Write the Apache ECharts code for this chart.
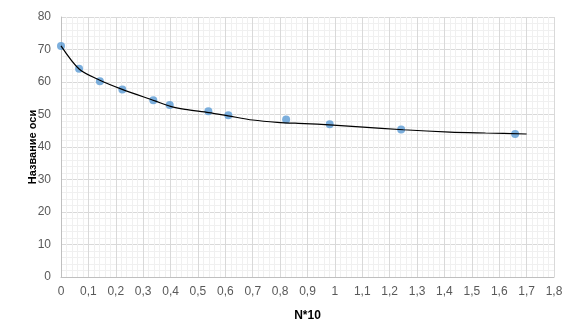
<!DOCTYPE html>
<html><head><meta charset="utf-8">
<script src="https://cdn.jsdelivr.net/npm/echarts@6/dist/echarts.min.js"></script>
<style>html,body{margin:0;padding:0;background:#fff}#c{width:586px;height:327px}</style>
</head><body><div id="c"></div>
<script>
const pointsX = [0, 0.066, 0.142, 0.224, 0.337, 0.397, 0.538, 0.611, 0.822, 0.981, 1.242, 1.658];
const pointsY = [71.1, 64.1, 60.2, 57.7, 54.4, 52.9, 51.0, 49.8, 48.5, 47.0, 45.4, 44.0];
const trendX = [0, 0.066, 0.14, 0.221, 0.343, 0.40, 0.453, 0.54, 0.61, 0.70, 0.79, 0.89, 0.98, 1.09, 1.25, 1.42, 1.55, 1.70];
const trendY = [71.1, 64.0, 60.6, 57.8, 54.2, 52.5, 51.6, 50.6, 49.6, 48.3, 47.6, 47.2, 46.8, 46.2, 45.3, 44.6, 44.3, 44.0];
const xTitle = 'N*10';
const yTitle = 'Название оси';

const chart = echarts.init(document.getElementById('c'), null, {renderer: 'canvas'});
const fam = '"Liberation Sans", Arial, sans-serif';
chart.setOption({
  animation: false,
  backgroundColor: '#fff',
  grid: {left: 61, right: 32, top: 17, bottom: 48, containLabel: false},
  xAxis: {
    type: 'value', min: 0, max: 1.8, interval: 0.1,
    name: xTitle, nameLocation: 'middle', nameGap: 33, nameMoveOverlap: false,
    nameTextStyle: {fontFamily: fam, fontSize: 12, fontWeight: 'bold', color: '#000'},
    axisLine: {show: true, lineStyle: {color: '#bfbfbf', width: 1}},
    axisTick: {show: false},
    axisLabel: {fontFamily: fam, fontSize: 12, color: '#595959', margin: 9,
      formatter: v => String(Math.round(v * 10) / 10).replace('.', ',')},
    splitLine: {show: true, lineStyle: {color: '#d9d9d9', width: 1}},
    minorTick: {show: false, splitNumber: 5},
    minorSplitLine: {show: true, lineStyle: {color: '#f0f0f0', width: 1}}
  },
  yAxis: {
    type: 'value', min: 0, max: 80, interval: 10,
    name: yTitle, nameLocation: 'middle', nameGap: 23, nameMoveOverlap: false,
    nameTextStyle: {fontFamily: fam, fontSize: 11, fontWeight: 'bold', color: '#000'},
    axisLine: {show: true, lineStyle: {color: '#bfbfbf', width: 1}},
    axisTick: {show: false},
    axisLabel: {fontFamily: fam, fontSize: 12, color: '#595959', margin: 10},
    splitLine: {show: true, lineStyle: {color: '#d9d9d9', width: 1}},
    minorTick: {show: false, splitNumber: 5},
    minorSplitLine: {show: true, lineStyle: {color: '#f0f0f0', width: 1}}
  },
  series: [
    {
      type: 'scatter', symbol: 'circle', symbolSize: 8,
      itemStyle: {color: '#5b9bd5'},
      data: pointsX.map((x, i) => [x, pointsY[i]]), z: 2
    },
    {
      type: 'line', showSymbol: false, smooth: 0.3,
      lineStyle: {color: '#000', width: 1.2},
      data: trendX.map((x, i) => [x, trendY[i]]), z: 3
    }
  ]
});
</script></body></html>
